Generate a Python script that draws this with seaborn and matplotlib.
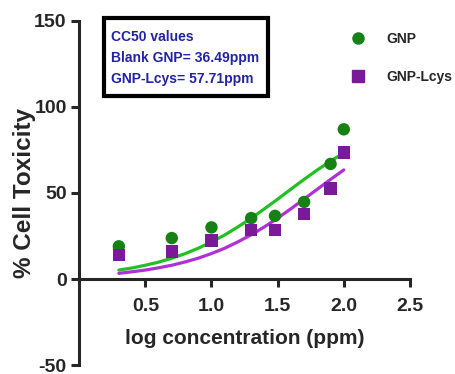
import numpy as np
import pandas as pd
import seaborn as sns
import matplotlib.pyplot as plt
from matplotlib.lines import Line2D
from matplotlib.patches import Rectangle

# measured points
log_conc = [0.30, 0.70, 1.00, 1.30, 1.48, 1.70, 1.90, 2.00]
gnp = [19.0, 23.8, 30.0, 35.4, 36.7, 44.8, 66.9, 87.0]
gnp_lcys = [14.0, 16.0, 22.3, 28.6, 28.6, 37.7, 52.5, 73.6]

# fitted curves
fit_x = [0.3, 0.4, 0.5, 0.6, 0.7, 0.8, 0.9, 1.0, 1.1, 1.2, 1.3, 1.4, 1.5, 1.6, 1.7, 1.8, 1.9, 2.0]
fit_gnp = [5.2, 6.4, 8.0, 9.8, 12.1, 14.7, 17.9, 21.5, 25.6, 30.3, 35.3, 40.8, 46.4, 52.2, 57.9, 63.4, 68.5, 73.3]
fit_lcys = [3.3, 4.2, 5.2, 6.5, 8.0, 9.9, 12.1, 14.8, 17.9, 21.6, 25.7, 30.3, 35.4, 40.8, 46.5, 52.2, 57.9, 63.4]

series = ["GNP", "GNP-Lcys"]
x_ticks = [0.5, 1.0, 1.5, 2.0, 2.5]
y_ticks = [-50, 0, 50, 100, 150]
box_lines = ["CC50 values", "Blank GNP= 36.49ppm", "GNP-Lcys= 57.71ppm"]

pts = pd.DataFrame({
    "x": log_conc * 2,
    "y": gnp + gnp_lcys,
    "sample": [series[0]] * len(gnp) + [series[1]] * len(gnp_lcys),
})
fits = pd.DataFrame({
    "x": fit_x * 2,
    "y": fit_gnp + fit_lcys,
    "sample": [series[0]] * len(fit_gnp) + [series[1]] * len(fit_lcys),
})

sns.set_style("ticks")
plt.rcParams["font.family"] = ["Liberation Sans", "DejaVu Sans"]
plt.rcParams["font.weight"] = "bold"
plt.rcParams["axes.unicode_minus"] = False

pt_colors = {"GNP": "#168216", "GNP-Lcys": "#7a1a9a"}
line_colors = {"GNP": "#22c022", "GNP-Lcys": "#b030d8"}

fig = plt.figure(figsize=(4.55, 3.74), dpi=100)
ax = fig.add_axes([0.174, 0.024, 0.727, 0.92])

sns.lineplot(data=fits, x="x", y="y", hue="sample", palette=line_colors,
             linewidth=2.3, legend=False, ax=ax, zorder=2)
sns.scatterplot(data=pts, x="x", y="y", hue="sample", style="sample",
                markers={"GNP": "o", "GNP-Lcys": "s"}, palette=pt_colors,
                s=80, linewidth=0, legend=False, ax=ax, zorder=3)

ax.set_xlim(0, 2.5)
ax.set_ylim(-50, 150)
ax.set_xticks(x_ticks)
ax.set_xticklabels([f"{v:.1f}" for v in x_ticks])
ax.set_yticks(y_ticks)
ax.spines["bottom"].set_position(("data", 0))
ax.spines["right"].set_visible(False)
ax.spines["top"].set_visible(False)
for s in ["left", "bottom"]:
    ax.spines[s].set_linewidth(2.2)
ax.tick_params(axis="both", width=2.2, length=6, labelsize=14, pad=3)
ax.tick_params(axis="x", pad=8)
for lab in ax.get_xticklabels() + ax.get_yticklabels():
    lab.set_fontweight("bold")

ax.set_xlabel("")
ax.set_ylabel("")
fig.text(0.538, 0.096, "log concentration (ppm)", ha="center", va="center",
         fontsize=15, fontweight="bold")
fig.text(0.054, 0.485, "% Cell Toxicity", ha="center", va="center",
         rotation=90, fontsize=17.5, fontweight="bold")

# legend
handles = [
    Line2D([], [], marker="o", linestyle="", color=pt_colors["GNP"], markersize=8),
    Line2D([], [], marker="s", linestyle="", color=pt_colors["GNP-Lcys"], markersize=8),
]
fig.legend(handles, series, loc="upper left", bbox_to_anchor=(0.745, 0.93),
           frameon=False, handletextpad=1.0, labelspacing=1.75, borderaxespad=0,
           prop={"weight": "bold", "size": 10})

# CC50 box
fig.patches.append(Rectangle((0.229, 0.742), 0.359, 0.21, transform=fig.transFigure,
                             fill=False, edgecolor="black", linewidth=3))
for i, t in enumerate(box_lines):
    fig.text(0.243, 0.902 - i * 0.056, t, ha="left", va="center",
             fontsize=10, fontweight="bold", color="#2323a3")

fig.savefig("out.png", dpi=100)
